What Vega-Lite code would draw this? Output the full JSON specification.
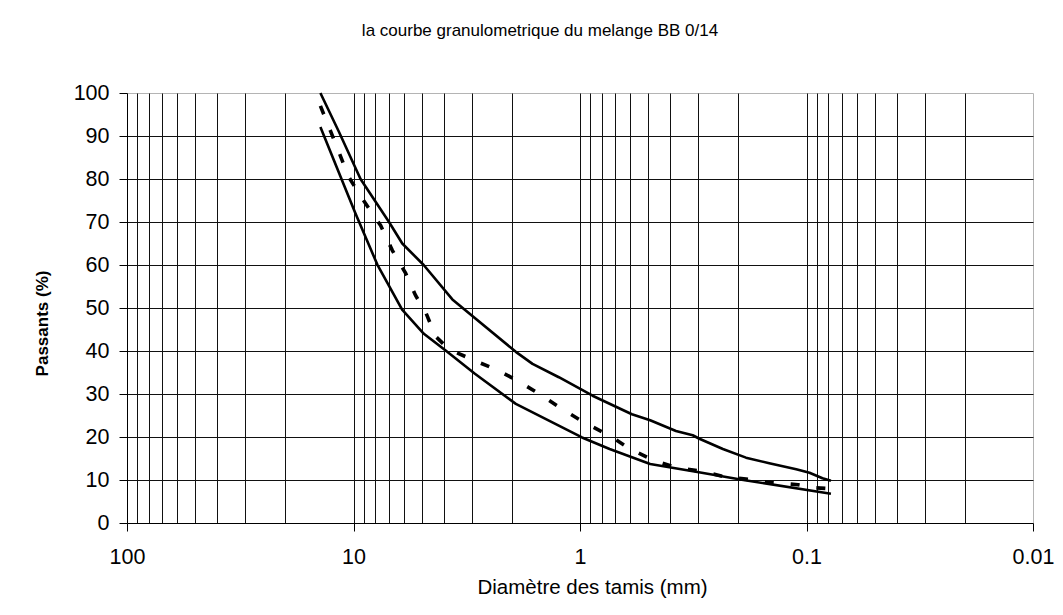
{
  "$schema": "https://vega.github.io/schema/vega-lite/v6.json",
  "width": 906,
  "height": 430,
  "autosize": "none",
  "padding": {"left": 127, "top": 93, "right": 30, "bottom": 92},
  "background": "white",
  "config": {
    "font": "Liberation Sans",
    "view": {"stroke": "#b4b4b4", "strokeWidth": 1}
  },
  "title": {
    "text": "la courbe granulometrique du melange  BB 0/14",
    "font": "Liberation Sans",
    "fontSize": 17,
    "fontWeight": "normal",
    "color": "black",
    "anchor": "middle",
    "dx": -40,
    "baseline": "alphabetic",
    "offset": 29
  },
  "datasets": {
    "limites": [
      {"serie": "Fuseau sup", "d": 14, "p": 100},
      {"serie": "Fuseau sup", "d": 11.6, "p": 91},
      {"serie": "Fuseau sup", "d": 9.31, "p": 80},
      {"serie": "Fuseau sup", "d": 6.97, "p": 70},
      {"serie": "Fuseau sup", "d": 6.09, "p": 65},
      {"serie": "Fuseau sup", "d": 4.9, "p": 60},
      {"serie": "Fuseau sup", "d": 3.66, "p": 52},
      {"serie": "Fuseau sup", "d": 1.92, "p": 39.8},
      {"serie": "Fuseau sup", "d": 1.62, "p": 37},
      {"serie": "Fuseau sup", "d": 1.24, "p": 33.9},
      {"serie": "Fuseau sup", "d": 0.88, "p": 29.6},
      {"serie": "Fuseau sup", "d": 0.59, "p": 25.3},
      {"serie": "Fuseau sup", "d": 0.49, "p": 23.9},
      {"serie": "Fuseau sup", "d": 0.377, "p": 21.4},
      {"serie": "Fuseau sup", "d": 0.318, "p": 20.4},
      {"serie": "Fuseau sup", "d": 0.297, "p": 19.6},
      {"serie": "Fuseau sup", "d": 0.234, "p": 17.2},
      {"serie": "Fuseau sup", "d": 0.185, "p": 15.2},
      {"serie": "Fuseau sup", "d": 0.146, "p": 13.9},
      {"serie": "Fuseau sup", "d": 0.111, "p": 12.5},
      {"serie": "Fuseau sup", "d": 0.097, "p": 11.7},
      {"serie": "Fuseau sup", "d": 0.085, "p": 10.4},
      {"serie": "Fuseau sup", "d": 0.078, "p": 9.8},
      {"serie": "Fuseau inf", "d": 14, "p": 92.1},
      {"serie": "Fuseau inf", "d": 9.8, "p": 72},
      {"serie": "Fuseau inf", "d": 7.85, "p": 60.1},
      {"serie": "Fuseau inf", "d": 6.1, "p": 49.6},
      {"serie": "Fuseau inf", "d": 4.89, "p": 44},
      {"serie": "Fuseau inf", "d": 3.92, "p": 40.1},
      {"serie": "Fuseau inf", "d": 2.91, "p": 34.7},
      {"serie": "Fuseau inf", "d": 1.92, "p": 27.7},
      {"serie": "Fuseau inf", "d": 0.98, "p": 19.9},
      {"serie": "Fuseau inf", "d": 0.74, "p": 17.2},
      {"serie": "Fuseau inf", "d": 0.49, "p": 13.7},
      {"serie": "Fuseau inf", "d": 0.29, "p": 11.7},
      {"serie": "Fuseau inf", "d": 0.19, "p": 10},
      {"serie": "Fuseau inf", "d": 0.078, "p": 6.8}
    ],
    "melange": [
      {"d": 14, "p": 97},
      {"d": 12.6, "p": 91},
      {"d": 10.5, "p": 80.5},
      {"d": 9.46, "p": 76.6},
      {"d": 8.26, "p": 72},
      {"d": 7.59, "p": 69.2},
      {"d": 6.74, "p": 63.4},
      {"d": 5.89, "p": 58.1},
      {"d": 5.32, "p": 52.9},
      {"d": 4.8, "p": 49},
      {"d": 4.34, "p": 43.4},
      {"d": 3.79, "p": 40.4},
      {"d": 2.99, "p": 38},
      {"d": 2.28, "p": 35.4},
      {"d": 1.89, "p": 33.1},
      {"d": 1.49, "p": 29.8},
      {"d": 1.2, "p": 26.5},
      {"d": 0.96, "p": 23.4},
      {"d": 0.74, "p": 20.3},
      {"d": 0.6, "p": 17.2},
      {"d": 0.47, "p": 14.5},
      {"d": 0.377, "p": 12.9},
      {"d": 0.29, "p": 12},
      {"d": 0.227, "p": 10.7},
      {"d": 0.185, "p": 10.2},
      {"d": 0.1435, "p": 9.4},
      {"d": 0.109, "p": 8.9},
      {"d": 0.092, "p": 8.2},
      {"d": 0.08, "p": 8}
    ]
  },
  "encoding": {
    "x": {
      "field": "d",
      "type": "quantitative",
      "scale": {"type": "log", "domain": [0.01, 100], "reverse": true, "nice": false},
      "axis": {
        "title": "Diamètre des tamis (mm)",
        "titleFont": "Liberation Sans",
        "titleFontSize": 20.5,
        "titleFontWeight": "normal",
        "titleColor": "black",
        "titleX": 465,
        "titleY": 70,
        "titleAlign": "center",
        "titleBaseline": "alphabetic",
        "values": [100, 90, 80, 70, 60, 50, 40, 30, 20, 10, 9, 8, 7, 6, 5, 4, 3, 2, 1, 0.9, 0.8, 0.7, 0.6, 0.5, 0.4, 0.3, 0.2, 0.1, 0.09, 0.08, 0.07, 0.06, 0.05, 0.04, 0.03, 0.02, 0.01],
        "labelExpr": "indexof([100, 10, 1, 0.1, 0.01], datum.value) >= 0 ? '' + datum.value : ''",
        "labelFont": "Liberation Sans",
        "labelFontSize": 21.5,
        "labelColor": "black",
        "labelPadding": 15,
        "labelOverlap": false,
        "labelFlush": false,
        "labelBound": false,
        "domainColor": "black",
        "domainWidth": 1,
        "tickColor": "black",
        "tickSize": 8,
        "tickWidth": 1,
        "tickOpacity": {"condition": {"test": "indexof([100, 10, 1, 0.1, 0.01], datum.value) >= 0", "value": 1}, "value": 0},
        "grid": true,
        "gridColor": "#111111",
        "gridWidth": 1,
        "gridOpacity": {"condition": {"test": "datum.value == 100 || datum.value == 0.01", "value": 0}, "value": 1}
      }
    },
    "y": {
      "field": "p",
      "type": "quantitative",
      "scale": {"domain": [0, 100], "nice": false},
      "axis": {
        "title": "Passants (%)",
        "titleFont": "Liberation Sans",
        "titleFontSize": 17,
        "titleFontWeight": "bold",
        "titleColor": "black",
        "titleX": -84.5,
        "titleY": 230,
        "titleAngle": 270,
        "titleAlign": "center",
        "titleBaseline": "middle",
        "values": [0, 10, 20, 30, 40, 50, 60, 70, 80, 90, 100],
        "labelFont": "Liberation Sans",
        "labelFontSize": 21.5,
        "labelColor": "black",
        "labelPadding": 10,
        "labelOverlap": false,
        "labelFlush": false,
        "labelBound": false,
        "domainColor": "black",
        "domainWidth": 1,
        "tickColor": "black",
        "tickSize": 8,
        "tickWidth": 1,
        "grid": true,
        "gridColor": "#111111",
        "gridWidth": 1,
        "gridOpacity": {"condition": {"test": "datum.value == 100 || datum.value == 0", "value": 0}, "value": 1}
      }
    }
  },
  "layer": [
    {
      "data": {"name": "limites"},
      "mark": {"type": "line", "color": "black", "strokeWidth": 2.6, "strokeJoin": "round", "clip": false},
      "encoding": {
        "detail": {"field": "serie", "type": "nominal"}
      }
    },
    {
      "data": {"name": "melange"},
      "mark": {"type": "line", "color": "black", "strokeWidth": 3.6, "strokeDash": [9, 17], "strokeCap": "butt", "clip": false},
      "encoding": {}
    }
  ]
}
